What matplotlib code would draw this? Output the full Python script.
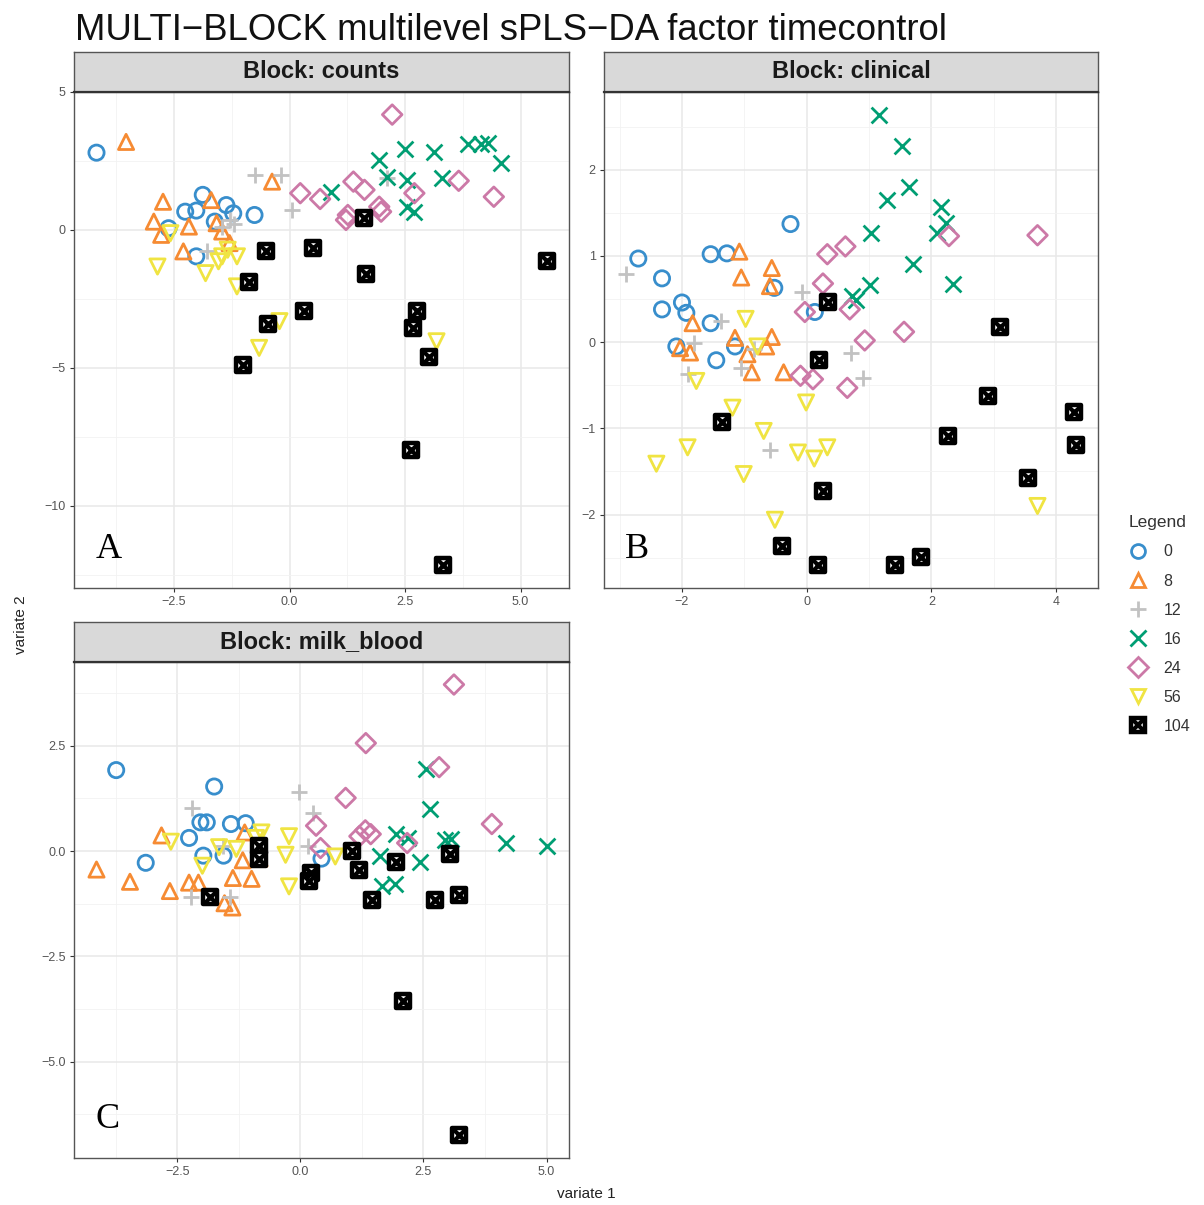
import matplotlib
matplotlib.use("Agg")
import matplotlib.pyplot as plt
from matplotlib.lines import Line2D
from matplotlib.legend_handler import HandlerTuple
from matplotlib.ticker import FixedLocator

plt.rcParams["font.family"] = ["Liberation Sans", "DejaVu Sans"]

groups = ["0", "8", "12", "16", "24", "56", "104"]
colors = ["#388ECC", "#F68B33", "#C2C2C2", "#009E73", "#CC79A7", "#F0E442", "#000000"]
markers = ["o", "^", "+", "x", "D", "v", "s"]

# Block: counts
counts_x = {
    "0": [-4.18, -1.88, -2.26, -2.02, -1.37, -1.22, -0.76, -2.62, -2.02, -1.62],
    "8": [-3.54, -0.38, -2.74, -2.94, -2.78, -2.18, -2.30, -1.70, -1.58, -1.30, -1.46],
    "12": [-0.74, -0.18, 0.06, 2.10, -1.46, -1.30, -1.78, -1.20],
    "16": [1.94, 2.50, 3.12, 3.86, 4.14, 4.30, 4.58, 0.90, 2.10, 2.54, 3.30, 2.54, 2.70],
    "24": [2.22, 0.23, 0.66, 1.38, 1.62, 3.66, 4.42, 1.26, 1.22, 1.94, 1.98, 2.70],
    "56": [-2.86, -2.58, -1.82, -1.46, -1.34, -1.14, -1.14, -0.66, -0.22, 3.18, -1.54],
    "104": [-0.52, 0.50, 1.62, 1.66, -0.89, 5.56, 0.31, -0.46, 2.76, 2.67, 3.02, -1.00, 2.62, 3.32],
}
counts_y = {
    "0": [2.80, 1.27, 0.66, 0.70, 0.90, 0.60, 0.54, 0.06, -0.96, 0.30],
    "8": [3.19, 1.75, 1.02, 0.30, -0.18, 0.12, -0.78, 1.08, 0.24, -0.48, -0.06],
    "12": [1.99, 1.99, 0.72, 1.87, 0.12, 0.36, -0.78, 0.20],
    "16": [2.55, 2.95, 2.83, 3.11, 3.13, 3.16, 2.43, 1.39, 1.90, 1.81, 1.87, 0.84, 0.66],
    "24": [4.18, 1.33, 1.12, 1.75, 1.45, 1.78, 1.20, 0.54, 0.36, 0.84, 0.66, 1.33],
    "56": [-1.33, -0.12, -1.57, -0.96, -0.72, -0.96, -2.05, -4.28, -3.31, -4.04, -1.14],
    "104": [-0.78, -0.66, 0.42, -1.59, -1.89, -1.12, -2.93, -3.41, -2.93, -3.55, -4.60, -4.90, -7.98, -12.17],
}

# Block: clinical
clinical_x = {
    "0": [-2.70, -2.32, -2.32, -2.00, -1.93, -1.54, -1.28, -0.26, -1.54, -1.45, -2.09, -1.15, -0.52, 0.13],
    "8": [-1.08, -1.05, -0.56, -0.59, -1.83, -1.15, -0.56, -0.88, -0.37, -1.87, -2.03, -0.95, -0.65],
    "12": [-2.89, -1.37, -1.80, -1.90, -1.05, -0.07, -0.59, 0.71, 0.90, -0.85],
    "16": [1.16, 1.52, 1.64, 1.28, 2.16, 2.23, 2.09, 1.03, 1.71, 2.34, 1.01, 0.73, 0.79],
    "24": [3.70, 2.28, 0.33, 0.62, 0.26, -0.03, 0.69, 1.56, 0.93, -0.10, 0.10, 0.65],
    "56": [-0.98, -1.77, -1.19, -0.01, -0.69, -1.91, -2.41, -1.01, -0.14, 0.12, 0.33, -0.51, 3.70, -0.79],
    "104": [0.34, 3.10, 0.20, -1.36, 2.91, 4.29, 4.31, 2.26, 3.55, 0.26, -0.39, 0.18, 1.41, 1.83],
}
clinical_y = {
    "0": [0.97, 0.74, 0.38, 0.46, 0.34, 1.02, 1.03, 1.37, 0.22, -0.21, -0.05, -0.05, 0.63, 0.35],
    "8": [1.05, 0.75, 0.86, 0.65, 0.22, 0.05, 0.06, -0.35, -0.35, -0.12, -0.07, -0.14, -0.05],
    "12": [0.79, 0.24, -0.01, -0.37, -0.30, 0.58, -1.25, -0.13, -0.42, -0.08],
    "16": [2.64, 2.27, 1.80, 1.65, 1.57, 1.38, 1.27, 1.27, 0.91, 0.68, 0.66, 0.53, 0.49],
    "24": [1.24, 1.23, 1.02, 1.11, 0.68, 0.35, 0.38, 0.12, 0.02, -0.39, -0.43, -0.53],
    "56": [0.27, -0.45, -0.76, -0.70, -1.03, -1.22, -1.41, -1.53, -1.28, -1.35, -1.22, -2.06, -1.90, -0.05],
    "104": [0.47, 0.17, -0.21, -0.93, -0.62, -0.81, -1.19, -1.09, -1.57, -1.73, -2.36, -2.59, -2.58, -2.49],
}

# Block: milk_blood
milk_x = {
    "0": [-3.74, -1.75, -3.14, -2.26, -2.03, -1.90, -1.41, -1.11, -1.97, -1.56, 0.43],
    "8": [-4.14, -3.46, -2.82, -2.65, -2.26, -2.07, -1.54, -1.38, -1.37, -0.99, -1.17, -1.13, -0.83],
    "12": [-2.20, -0.02, 0.26, -2.22, -1.43, 0.15, -1.58],
    "16": [2.56, 2.63, 1.95, 2.18, 2.93, 3.07, 4.17, 5.00, 1.62, 2.44, 1.65, 1.92],
    "24": [3.12, 1.33, 2.82, 0.92, 0.32, 3.89, 1.32, 1.20, 1.43, 2.17, 0.41],
    "56": [-2.63, -1.65, -0.79, -0.23, -0.30, -0.23, 0.71, -1.99, -0.90, -1.30],
    "104": [-0.83, -0.83, -1.84, 0.21, 0.17, 1.04, 1.20, 1.94, 1.45, 3.05, 2.74, 3.22, 2.09, 3.22],
}
milk_y = {
    "0": [1.92, 1.53, -0.28, 0.31, 0.68, 0.68, 0.64, 0.66, -0.11, -0.11, -0.18],
    "8": [-0.44, -0.73, 0.37, -0.95, -0.75, -0.75, -1.24, -1.34, -0.64, -0.66, -0.22, 0.44, -0.18],
    "12": [1.02, 1.41, 0.90, -1.10, -1.10, 0.13, 0.13],
    "16": [1.94, 0.99, 0.40, 0.31, 0.26, 0.28, 0.19, 0.13, -0.13, -0.26, -0.84, -0.79],
    "24": [3.95, 2.56, 1.99, 1.26, 0.60, 0.64, 0.49, 0.35, 0.40, 0.19, 0.07],
    "56": [0.22, 0.09, 0.44, 0.35, -0.09, -0.84, -0.13, -0.35, 0.31, 0.05],
    "104": [0.13, -0.18, -1.08, -0.53, -0.71, 0.00, -0.46, -0.25, -1.17, -0.06, -1.17, -1.04, -3.57, -6.75],
}

blocks = [
    ("Block: counts", counts_x, counts_y, [-2.5, 0, 2.5, 5.0], ["\u22122.5", "0.0", "2.5", "5.0"],
     [5, 0, -5, -10], ["5", "0", "\u22125", "\u221210"], "A"),
    ("Block: clinical", clinical_x, clinical_y, [-2, 0, 2, 4], ["\u22122", "0", "2", "4"],
     [2, 1, 0, -1, -2], ["2", "1", "0", "\u22121", "\u22122"], "B"),
    ("Block: milk_blood", milk_x, milk_y, [-2.5, 0, 2.5, 5.0], ["\u22122.5", "0.0", "2.5", "5.0"],
     [2.5, 0, -2.5, -5.0], ["2.5", "0.0", "\u22122.5", "\u22125.0"], "C"),
]

W, H = 1204, 1205
fig = plt.figure(figsize=(W / 100, H / 100), dpi=100)

# panel boxes in pixels: left, top, right, bottom
boxes = [(74, 92, 569, 588), (604, 92, 1098, 588), (74, 662, 569, 1158)]
strip_h = 40


def fbox(l, t, r, b):
    return [l / W, 1 - b / H, (r - l) / W, (b - t) / H]


def draw_group(ax, xs, ys, i):
    c = colors[i]
    m = markers[i]
    if m in ("+", "x"):
        ax.scatter(xs, ys, marker=m, color=c, s=130, linewidths=2, zorder=3)
    elif m == "s":
        ax.scatter(xs, ys, marker="s", facecolors="white", edgecolors=c, s=105, linewidths=3.2, zorder=4)
        ax.scatter(xs, ys, marker="x", color=c, s=60, linewidths=3.0, zorder=4)
    else:
        ax.scatter(xs, ys, marker=m, facecolors="none", edgecolors=c, s=120 if m != "D" else 100,
                   linewidths=2, zorder=3)


for (title, bx, by, xt, xtl, yt, ytl, letter), (l, t, r, b) in zip(blocks, boxes):
    ax = fig.add_axes(fbox(l, t, r, b))
    for i, g in enumerate(groups):
        draw_group(ax, bx[g], by[g], i)
    ax.margins(0.05)
    ax.set_xticks(xt)
    ax.set_xticklabels(xtl)
    ax.set_yticks(yt)
    ax.set_yticklabels(ytl)
    dx = xt[1] - xt[0]
    dy = yt[0] - yt[1]
    ax.xaxis.set_minor_locator(FixedLocator([xt[0] - dx / 2] + [v + dx / 2 for v in xt]))
    ax.yaxis.set_minor_locator(FixedLocator([yt[0] + dy / 2] + [v - dy / 2 for v in yt]))
    ax.grid(True, which="major", color="#e8e8e8", lw=1.1, zorder=0)
    ax.grid(True, which="minor", color="#f2f2f2", lw=0.6, zorder=0)
    ax.set_axisbelow(True)
    ax.tick_params(which="major", length=3, width=0.8, color="#333333", labelsize=9,
                   labelcolor="#555555", pad=3)
    ax.tick_params(which="minor", length=0)
    for s in ax.spines.values():
        s.set_color("#555555")
        s.set_linewidth(1.0)
    ax.text(0.043, 0.06, letter, transform=ax.transAxes, fontsize=26,
            family="Liberation Serif", ha="left", va="baseline")

    sx = fig.add_axes(fbox(l, t - strip_h, r, t))
    sx.set_facecolor("#d9d9d9")
    sx.set_xticks([])
    sx.set_yticks([])
    for s in sx.spines.values():
        s.set_color("#555555")
        s.set_linewidth(1.0)
    sx.spines["bottom"].set_color("#333333")
    sx.spines["bottom"].set_linewidth(1.6)
    sx.text(0.5, 0.5, title, transform=sx.transAxes, ha="center", va="center",
            fontsize=17, fontweight="bold", color="#1a1a1a")

fig.text(75 / W, 1 - 40 / H, "MULTI\u2212BLOCK multilevel sPLS\u2212DA factor timecontrol",
         fontsize=26.3, ha="left", va="baseline", color="#111111")
fig.text(586 / W, 1 - 1194 / H, "variate 1", fontsize=11, ha="center", va="center", color="#222222")
fig.text(21 / W, 1 - 625 / H, "variate 2", fontsize=11, ha="center", va="center", rotation=90,
         color="#222222")

handles = []
for i, g in enumerate(groups):
    m = markers[i]
    if m in ("+", "x"):
        handles.append(Line2D([], [], ls="", marker=m, color=colors[i], ms=11, mew=2))
    elif m == "s":
        h1 = Line2D([], [], ls="", marker="s", mfc="white", mec=colors[i], ms=9.5, mew=3.2)
        h2 = Line2D([], [], ls="", marker="x", color=colors[i], ms=7, mew=3.0)
        handles.append((h1, h2))
    else:
        handles.append(Line2D([], [], ls="", marker=m, mfc="none", mec=colors[i], ms=10, mew=2))

leg = fig.legend(handles, groups, title="Legend", loc="upper left",
                 bbox_to_anchor=(1122 / W, 1 - 509 / H), frameon=False, fontsize=11.5,
                 title_fontsize=12.5, handlelength=1.2, handletextpad=1.0, labelspacing=0.88,
                 borderaxespad=0, handler_map={tuple: HandlerTuple(ndivide=1, pad=0)})
leg._legend_box.align = "left"
for txt in leg.get_texts():
    txt.set_color("#333333")
leg.get_title().set_color("#333333")

fig.savefig("out.png", dpi=100)
